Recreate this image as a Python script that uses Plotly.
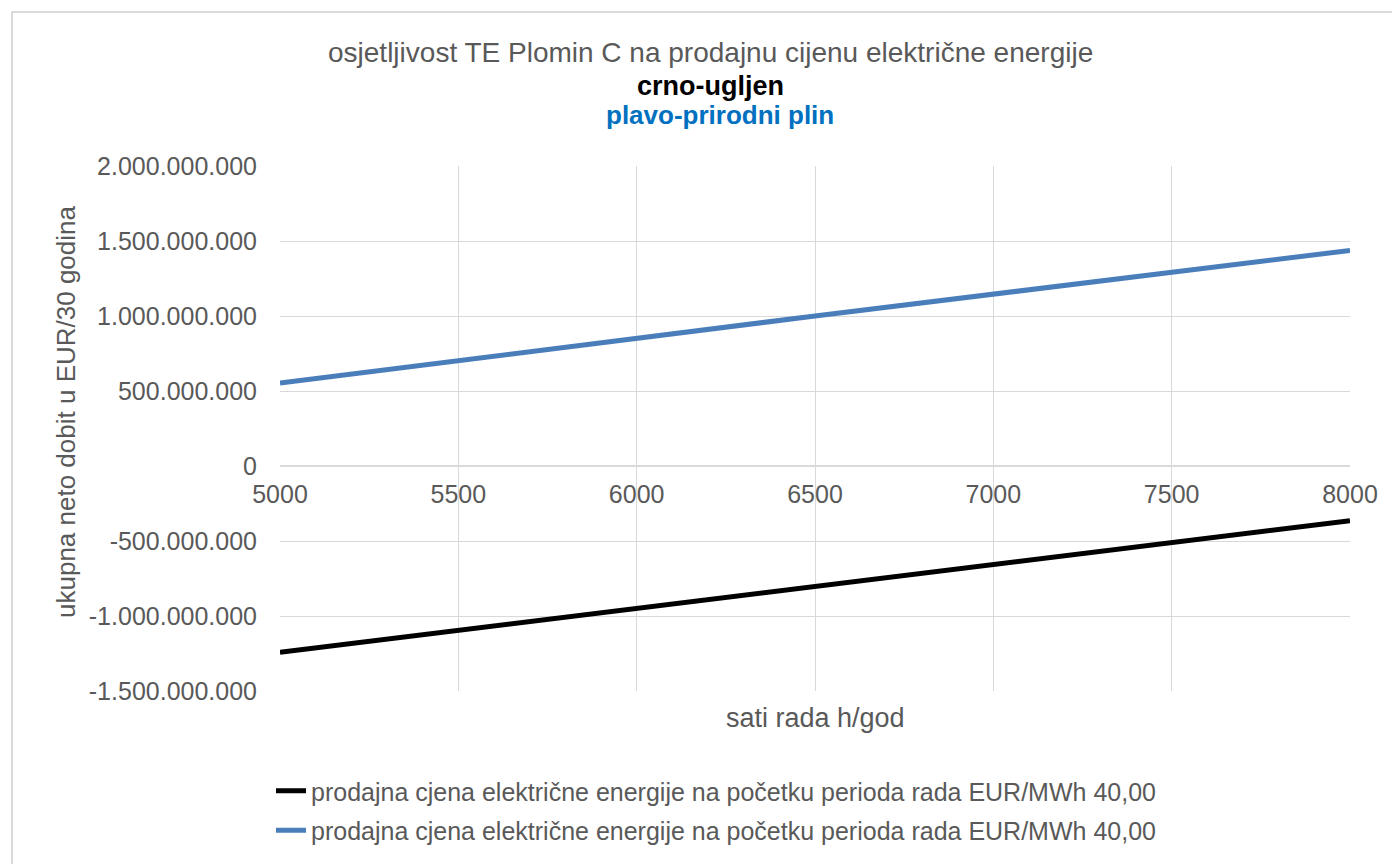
import plotly.graph_objects as go

# Data
hours = [5000, 6500, 8000]
coal_profit = [-1.242e9, -0.80e9, -0.365e9]   # crno - ugljen
gas_profit = [0.553e9, 1.0e9, 1.437e9]        # plavo - prirodni plin

series_names = [
    "prodajna cjena električne energije na početku perioda rada EUR/MWh 40,00",
    "prodajna cjena električne energije na početku perioda rada EUR/MWh 40,00",
]

x_ticks = [5000, 5500, 6000, 6500, 7000, 7500, 8000]
y_ticks = [-1.5e9, -1.0e9, -0.5e9, 0, 0.5e9, 1.0e9, 1.5e9, 2.0e9]
y_tick_text = ["-1.500.000.000", "-1.000.000.000", "-500.000.000", "0",
               "500.000.000", "1.000.000.000", "1.500.000.000", "2.000.000.000"]

title_line1 = "osjetljivost TE Plomin C na prodajnu cijenu električne energije"
title_line2 = "crno-ugljen"
title_line3 = "plavo-prirodni plin"
x_title = "sati rada h/god"
y_title = "ukupna neto dobit u EUR/30 godina"

FONT = "Liberation Sans, Arial, sans-serif"
GRAY = "#595959"
GRID = "#D9D9D9"

OFF = 8  # page body margin
W, H = 1400, 864
# plot area in screenshot pixels: x 280..1350, y 166..691
L = 280 - OFF
T = 166 - OFF
R = W - (1350 - OFF)
B = H - (691 - OFF)
PW, PH = W - L - R, H - T - B


def px_x(px):
    return (px - OFF - L) / PW


def px_y(py):
    return (H - B - (py - OFF)) / PH


fig = go.Figure()
fig.add_trace(go.Scatter(x=hours, y=coal_profit, mode="lines", name=series_names[0],
                         line=dict(color="#000000", width=5), legendgroup="a"))
fig.add_trace(go.Scatter(x=hours, y=gas_profit, mode="lines", name=series_names[1],
                         line=dict(color="#4A7EBB", width=5), legendgroup="b"))

zero_pos = (0 - y_ticks[0]) / (y_ticks[-1] - y_ticks[0])

fig.update_layout(
    width=W, height=H,
    margin=dict(l=L, r=R, t=T, b=B, autoexpand=False),
    paper_bgcolor="white", plot_bgcolor="white",
    font=dict(family=FONT, color=GRAY, size=24),
    xaxis=dict(range=[x_ticks[0], x_ticks[-1]], tickvals=x_ticks,
               ticktext=[str(v) for v in x_ticks],
               showgrid=True, gridcolor=GRID, gridwidth=1,
               zeroline=False, showline=True, linecolor=GRID, linewidth=1.5,
               anchor="free", position=zero_pos, ticks="",
               tickfont=dict(size=25, color=GRAY), ticklabelstandoff=6),
    yaxis=dict(range=[y_ticks[0], y_ticks[-1]], tickvals=y_ticks, ticktext=y_tick_text,
               showgrid=True, gridcolor=GRID, gridwidth=1, zeroline=False,
               showline=False, ticks="", tickfont=dict(size=25, color=GRAY),
               ticklabelstandoff=22),
    showlegend=True,
    legend=dict(xref="container", yref="container", x=(271 - OFF) / W, y=1 - (768 - OFF) / H,
                xanchor="left", yanchor="top", traceorder="grouped",
                tracegroupgap=4, font=dict(size=25, color=GRAY),
                bgcolor="rgba(0,0,0,0)"),
)

# chart border
fig.add_shape(type="rect", xref="paper", yref="paper",
              x0=px_x(12), x1=px_x(1420), y0=px_y(890), y1=px_y(12),
              line=dict(color="#D9D9D9", width=2), fillcolor="rgba(0,0,0,0)", layer="below")

anns = [
    dict(text=title_line1, x=px_x(710), y=px_y(52), font=dict(size=28, color=GRAY)),
    dict(text="<b>" + title_line2 + "</b>", x=px_x(710), y=px_y(86), font=dict(size=27, color="#000000")),
    dict(text="<b>" + title_line3 + "</b>", x=px_x(720), y=px_y(115), font=dict(size=26, color="#0070C0")),
    dict(text=x_title, x=px_x(815), y=px_y(718), font=dict(size=27, color=GRAY)),
    dict(text=y_title, x=px_x(66), y=px_y(412), font=dict(size=26, color=GRAY), textangle=-90),
]
for a in anns:
    fig.add_annotation(xref="paper", yref="paper", xanchor="center", yanchor="middle",
                       showarrow=False, **a)

fig.write_html("out.html")
